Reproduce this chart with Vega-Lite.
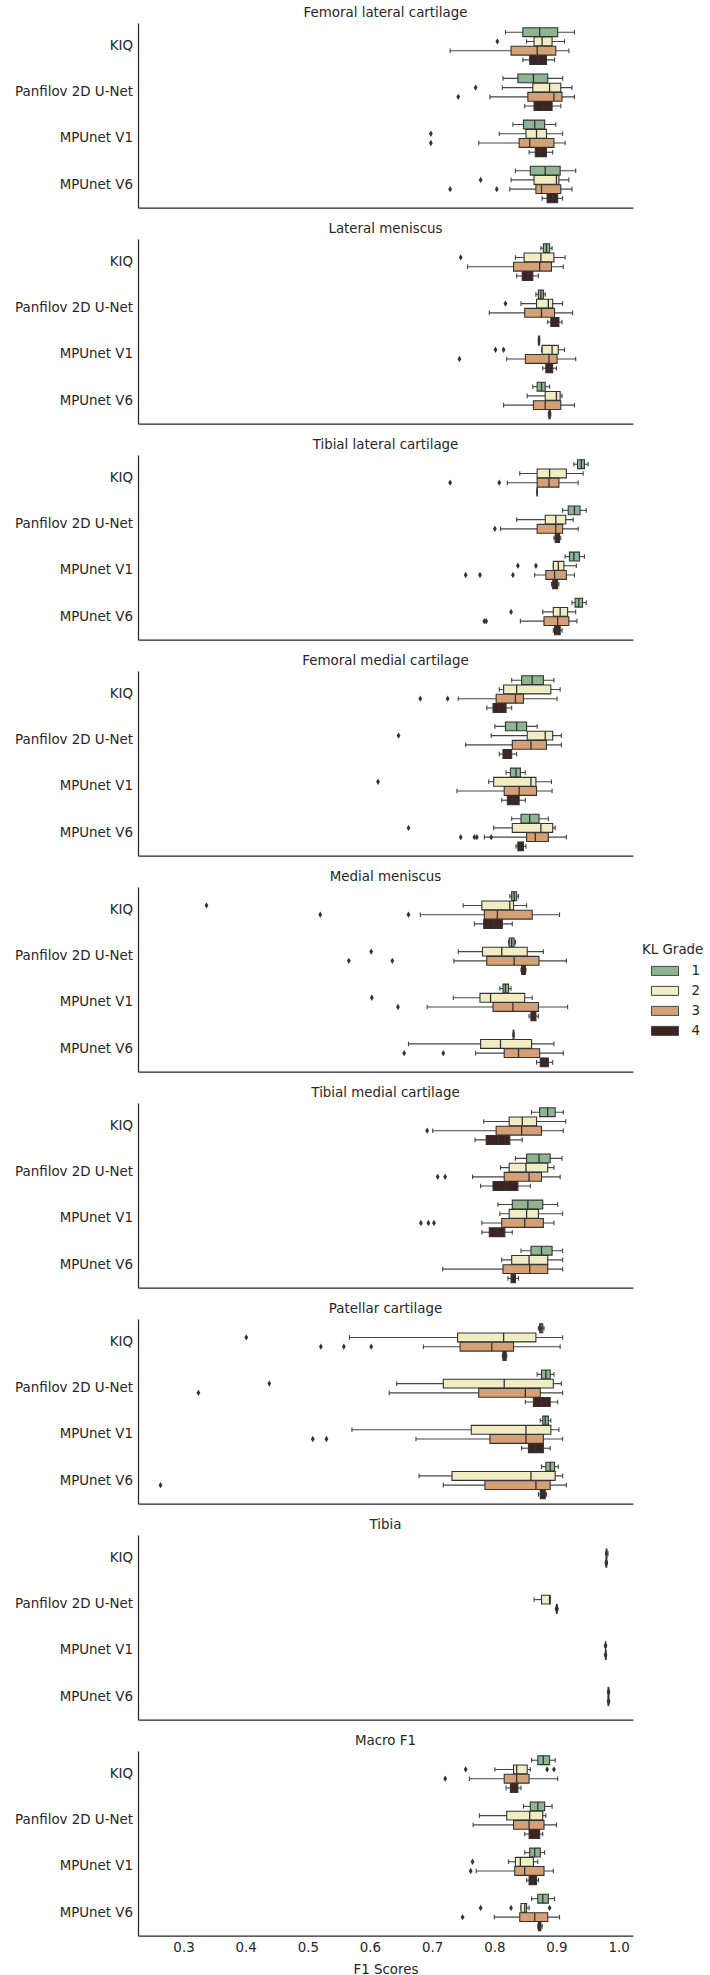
{
  "$schema": "https://vega.github.io/schema/vega-lite/v6.json",
  "autosize": {"type": "pad"},
  "padding": {"left": 14, "top": 5, "right": 0, "bottom": 0},
  "background": "white",
  "config": {
    "font": "DejaVu Sans",
    "view": {"stroke": null},
    "axis": {"grid": false, "ticks": false, "domainColor": "#262626", "domainWidth": 1.25, "labelColor": "#262626", "labelFontSize": 13.4, "titleFontSize": 13.4, "titleFontWeight": "normal", "titleColor": "#262626"},
    "title": {"fontSize": 13.4, "fontWeight": "normal", "color": "#262626"}
  },
  "resolve": {"scale": {"color": "shared", "y": "independent", "yOffset": "independent"}, "legend": {"color": "shared"}},
  "data": {"values": [
{"part":"Femoral lateral cartilage","method":"KIQ","grade":1,"lo":0.818,"q1":0.846,"med":0.873,"q3":0.902,"hi":0.929},
{"part":"Femoral lateral cartilage","method":"KIQ","grade":2,"lo":0.852,"q1":0.864,"med":0.877,"q3":0.893,"hi":0.913},
{"part":"Femoral lateral cartilage","method":"KIQ","grade":3,"lo":0.729,"q1":0.827,"med":0.869,"q3":0.899,"hi":0.920},
{"part":"Femoral lateral cartilage","method":"KIQ","grade":4,"lo":0.846,"q1":0.857,"med":0.871,"q3":0.884,"hi":0.897},
{"part":"Femoral lateral cartilage","method":"Panfilov 2D U-Net","grade":1,"lo":0.814,"q1":0.838,"med":0.863,"q3":0.886,"hi":0.910},
{"part":"Femoral lateral cartilage","method":"Panfilov 2D U-Net","grade":2,"lo":0.813,"q1":0.862,"med":0.889,"q3":0.907,"hi":0.925},
{"part":"Femoral lateral cartilage","method":"Panfilov 2D U-Net","grade":3,"lo":0.793,"q1":0.854,"med":0.896,"q3":0.909,"hi":0.929},
{"part":"Femoral lateral cartilage","method":"Panfilov 2D U-Net","grade":4,"lo":0.849,"q1":0.864,"med":0.879,"q3":0.893,"hi":0.907},
{"part":"Femoral lateral cartilage","method":"MPUnet V1","grade":1,"lo":0.830,"q1":0.847,"med":0.865,"q3":0.881,"hi":0.899},
{"part":"Femoral lateral cartilage","method":"MPUnet V1","grade":2,"lo":0.808,"q1":0.851,"med":0.868,"q3":0.884,"hi":0.910},
{"part":"Femoral lateral cartilage","method":"MPUnet V1","grade":3,"lo":0.775,"q1":0.840,"med":0.857,"q3":0.896,"hi":0.914},
{"part":"Femoral lateral cartilage","method":"MPUnet V1","grade":4,"lo":0.856,"q1":0.866,"med":0.875,"q3":0.884,"hi":0.894},
{"part":"Femoral lateral cartilage","method":"MPUnet V6","grade":1,"lo":0.834,"q1":0.858,"med":0.882,"q3":0.906,"hi":0.931},
{"part":"Femoral lateral cartilage","method":"MPUnet V6","grade":2,"lo":0.827,"q1":0.864,"med":0.900,"q3":0.904,"hi":0.920},
{"part":"Femoral lateral cartilage","method":"MPUnet V6","grade":3,"lo":0.825,"q1":0.867,"med":0.876,"q3":0.907,"hi":0.925},
{"part":"Femoral lateral cartilage","method":"MPUnet V6","grade":4,"lo":0.877,"q1":0.885,"med":0.894,"q3":0.902,"hi":0.910},
{"part":"Femoral lateral cartilage","method":"KIQ","grade":2,"value":0.805},
{"part":"Femoral lateral cartilage","method":"Panfilov 2D U-Net","grade":2,"value":0.770},
{"part":"Femoral lateral cartilage","method":"Panfilov 2D U-Net","grade":3,"value":0.742},
{"part":"Femoral lateral cartilage","method":"MPUnet V1","grade":2,"value":0.698},
{"part":"Femoral lateral cartilage","method":"MPUnet V1","grade":3,"value":0.698},
{"part":"Femoral lateral cartilage","method":"MPUnet V6","grade":2,"value":0.778},
{"part":"Femoral lateral cartilage","method":"MPUnet V6","grade":3,"value":0.729},
{"part":"Femoral lateral cartilage","method":"MPUnet V6","grade":3,"value":0.804},

{"part":"Lateral meniscus","method":"KIQ","grade":1,"lo":0.875,"q1":0.879,"med":0.884,"q3":0.889,"hi":0.893},
{"part":"Lateral meniscus","method":"KIQ","grade":2,"lo":0.834,"q1":0.848,"med":0.875,"q3":0.896,"hi":0.914},
{"part":"Lateral meniscus","method":"KIQ","grade":3,"lo":0.757,"q1":0.831,"med":0.873,"q3":0.892,"hi":0.911},
{"part":"Lateral meniscus","method":"KIQ","grade":4,"lo":0.836,"q1":0.845,"med":0.854,"q3":0.862,"hi":0.871},
{"part":"Lateral meniscus","method":"Panfilov 2D U-Net","grade":1,"lo":0.867,"q1":0.871,"med":0.875,"q3":0.879,"hi":0.882},
{"part":"Lateral meniscus","method":"Panfilov 2D U-Net","grade":2,"lo":0.843,"q1":0.868,"med":0.887,"q3":0.894,"hi":0.910},
{"part":"Lateral meniscus","method":"Panfilov 2D U-Net","grade":3,"lo":0.792,"q1":0.849,"med":0.876,"q3":0.897,"hi":0.926},
{"part":"Lateral meniscus","method":"Panfilov 2D U-Net","grade":4,"lo":0.886,"q1":0.891,"med":0.898,"q3":0.904,"hi":0.909},
{"part":"Lateral meniscus","method":"MPUnet V1","grade":1,"lo":0.871,"q1":0.871,"med":0.872,"q3":0.873,"hi":0.873},
{"part":"Lateral meniscus","method":"MPUnet V1","grade":2,"lo":0.876,"q1":0.877,"med":0.893,"q3":0.903,"hi":0.913},
{"part":"Lateral meniscus","method":"MPUnet V1","grade":3,"lo":0.820,"q1":0.850,"med":0.888,"q3":0.901,"hi":0.931},
{"part":"Lateral meniscus","method":"MPUnet V1","grade":4,"lo":0.878,"q1":0.883,"med":0.889,"q3":0.894,"hi":0.900},
{"part":"Lateral meniscus","method":"MPUnet V6","grade":1,"lo":0.862,"q1":0.869,"med":0.876,"q3":0.882,"hi":0.889},
{"part":"Lateral meniscus","method":"MPUnet V6","grade":2,"lo":0.853,"q1":0.882,"med":0.900,"q3":0.906,"hi":0.909},
{"part":"Lateral meniscus","method":"MPUnet V6","grade":3,"lo":0.815,"q1":0.863,"med":0.882,"q3":0.907,"hi":0.929},
{"part":"Lateral meniscus","method":"MPUnet V6","grade":4,"lo":0.887,"q1":0.888,"med":0.889,"q3":0.890,"hi":0.891},
{"part":"Lateral meniscus","method":"KIQ","grade":2,"value":0.746},
{"part":"Lateral meniscus","method":"Panfilov 2D U-Net","grade":2,"value":0.818},
{"part":"Lateral meniscus","method":"MPUnet V1","grade":2,"value":0.802},
{"part":"Lateral meniscus","method":"MPUnet V1","grade":2,"value":0.815},
{"part":"Lateral meniscus","method":"MPUnet V1","grade":3,"value":0.744},

{"part":"Tibial lateral cartilage","method":"KIQ","grade":1,"lo":0.928,"q1":0.934,"med":0.940,"q3":0.945,"hi":0.951},
{"part":"Tibial lateral cartilage","method":"KIQ","grade":2,"lo":0.841,"q1":0.869,"med":0.889,"q3":0.916,"hi":0.943},
{"part":"Tibial lateral cartilage","method":"KIQ","grade":3,"lo":0.821,"q1":0.869,"med":0.888,"q3":0.904,"hi":0.935},
{"part":"Tibial lateral cartilage","method":"KIQ","grade":4,"lo":0.869,"q1":0.869,"med":0.869,"q3":0.869,"hi":0.869},
{"part":"Tibial lateral cartilage","method":"Panfilov 2D U-Net","grade":1,"lo":0.910,"q1":0.919,"med":0.929,"q3":0.938,"hi":0.948},
{"part":"Tibial lateral cartilage","method":"Panfilov 2D U-Net","grade":2,"lo":0.836,"q1":0.882,"med":0.899,"q3":0.915,"hi":0.927},
{"part":"Tibial lateral cartilage","method":"Panfilov 2D U-Net","grade":3,"lo":0.810,"q1":0.869,"med":0.899,"q3":0.910,"hi":0.935},
{"part":"Tibial lateral cartilage","method":"Panfilov 2D U-Net","grade":4,"lo":0.896,"q1":0.898,"med":0.902,"q3":0.905,"hi":0.907},
{"part":"Tibial lateral cartilage","method":"MPUnet V1","grade":1,"lo":0.914,"q1":0.921,"med":0.928,"q3":0.937,"hi":0.945},
{"part":"Tibial lateral cartilage","method":"MPUnet V1","grade":2,"lo":0.895,"q1":0.895,"med":0.903,"q3":0.912,"hi":0.932},
{"part":"Tibial lateral cartilage","method":"MPUnet V1","grade":3,"lo":0.865,"q1":0.883,"med":0.897,"q3":0.916,"hi":0.929},
{"part":"Tibial lateral cartilage","method":"MPUnet V1","grade":4,"lo":0.892,"q1":0.894,"med":0.898,"q3":0.902,"hi":0.904},
{"part":"Tibial lateral cartilage","method":"MPUnet V6","grade":1,"lo":0.925,"q1":0.930,"med":0.936,"q3":0.942,"hi":0.948},
{"part":"Tibial lateral cartilage","method":"MPUnet V6","grade":2,"lo":0.878,"q1":0.895,"med":0.906,"q3":0.918,"hi":0.931},
{"part":"Tibial lateral cartilage","method":"MPUnet V6","grade":3,"lo":0.842,"q1":0.880,"med":0.902,"q3":0.920,"hi":0.933},
{"part":"Tibial lateral cartilage","method":"MPUnet V6","grade":4,"lo":0.895,"q1":0.897,"med":0.902,"q3":0.906,"hi":0.909},
{"part":"Tibial lateral cartilage","method":"KIQ","grade":3,"value":0.729},
{"part":"Tibial lateral cartilage","method":"KIQ","grade":3,"value":0.808},
{"part":"Tibial lateral cartilage","method":"Panfilov 2D U-Net","grade":3,"value":0.801},
{"part":"Tibial lateral cartilage","method":"MPUnet V1","grade":2,"value":0.838},
{"part":"Tibial lateral cartilage","method":"MPUnet V1","grade":2,"value":0.867},
{"part":"Tibial lateral cartilage","method":"MPUnet V1","grade":3,"value":0.754},
{"part":"Tibial lateral cartilage","method":"MPUnet V1","grade":3,"value":0.777},
{"part":"Tibial lateral cartilage","method":"MPUnet V1","grade":3,"value":0.830},
{"part":"Tibial lateral cartilage","method":"MPUnet V6","grade":2,"value":0.827},
{"part":"Tibial lateral cartilage","method":"MPUnet V6","grade":3,"value":0.784},
{"part":"Tibial lateral cartilage","method":"MPUnet V6","grade":3,"value":0.787},

{"part":"Femoral medial cartilage","method":"KIQ","grade":1,"lo":0.828,"q1":0.844,"med":0.861,"q3":0.879,"hi":0.896},
{"part":"Femoral medial cartilage","method":"KIQ","grade":2,"lo":0.808,"q1":0.815,"med":0.836,"q3":0.891,"hi":0.906},
{"part":"Femoral medial cartilage","method":"KIQ","grade":3,"lo":0.742,"q1":0.803,"med":0.834,"q3":0.847,"hi":0.901},
{"part":"Femoral medial cartilage","method":"KIQ","grade":4,"lo":0.788,"q1":0.798,"med":0.808,"q3":0.819,"hi":0.828},
{"part":"Femoral medial cartilage","method":"Panfilov 2D U-Net","grade":1,"lo":0.801,"q1":0.818,"med":0.836,"q3":0.852,"hi":0.869},
{"part":"Femoral medial cartilage","method":"Panfilov 2D U-Net","grade":2,"lo":0.795,"q1":0.853,"med":0.882,"q3":0.894,"hi":0.908},
{"part":"Femoral medial cartilage","method":"Panfilov 2D U-Net","grade":3,"lo":0.754,"q1":0.829,"med":0.859,"q3":0.884,"hi":0.908},
{"part":"Femoral medial cartilage","method":"Panfilov 2D U-Net","grade":4,"lo":0.808,"q1":0.814,"med":0.821,"q3":0.828,"hi":0.836},
{"part":"Femoral medial cartilage","method":"MPUnet V1","grade":1,"lo":0.819,"q1":0.826,"med":0.835,"q3":0.842,"hi":0.850},
{"part":"Femoral medial cartilage","method":"MPUnet V1","grade":2,"lo":0.791,"q1":0.799,"med":0.859,"q3":0.867,"hi":0.892},
{"part":"Femoral medial cartilage","method":"MPUnet V1","grade":3,"lo":0.740,"q1":0.816,"med":0.840,"q3":0.868,"hi":0.893},
{"part":"Femoral medial cartilage","method":"MPUnet V1","grade":4,"lo":0.812,"q1":0.821,"med":0.830,"q3":0.840,"hi":0.850},
{"part":"Femoral medial cartilage","method":"MPUnet V6","grade":1,"lo":0.828,"q1":0.843,"med":0.857,"q3":0.872,"hi":0.887},
{"part":"Femoral medial cartilage","method":"MPUnet V6","grade":2,"lo":0.799,"q1":0.829,"med":0.875,"q3":0.894,"hi":0.898},
{"part":"Femoral medial cartilage","method":"MPUnet V6","grade":3,"lo":0.784,"q1":0.852,"med":0.866,"q3":0.887,"hi":0.916},
{"part":"Femoral medial cartilage","method":"MPUnet V6","grade":4,"lo":0.835,"q1":0.838,"med":0.842,"q3":0.847,"hi":0.851},
{"part":"Femoral medial cartilage","method":"KIQ","grade":3,"value":0.681},
{"part":"Femoral medial cartilage","method":"KIQ","grade":3,"value":0.725},
{"part":"Femoral medial cartilage","method":"Panfilov 2D U-Net","grade":2,"value":0.646},
{"part":"Femoral medial cartilage","method":"MPUnet V1","grade":2,"value":0.613},
{"part":"Femoral medial cartilage","method":"MPUnet V6","grade":2,"value":0.662},
{"part":"Femoral medial cartilage","method":"MPUnet V6","grade":3,"value":0.746},
{"part":"Femoral medial cartilage","method":"MPUnet V6","grade":3,"value":0.768},
{"part":"Femoral medial cartilage","method":"MPUnet V6","grade":3,"value":0.772},
{"part":"Femoral medial cartilage","method":"MPUnet V6","grade":3,"value":0.795},

{"part":"Medial meniscus","method":"KIQ","grade":1,"lo":0.825,"q1":0.828,"med":0.832,"q3":0.836,"hi":0.839},
{"part":"Medial meniscus","method":"KIQ","grade":2,"lo":0.750,"q1":0.780,"med":0.825,"q3":0.831,"hi":0.852},
{"part":"Medial meniscus","method":"KIQ","grade":3,"lo":0.681,"q1":0.784,"med":0.805,"q3":0.861,"hi":0.905},
{"part":"Medial meniscus","method":"KIQ","grade":4,"lo":0.768,"q1":0.783,"med":0.799,"q3":0.813,"hi":0.829},
{"part":"Medial meniscus","method":"Panfilov 2D U-Net","grade":1,"lo":0.823,"q1":0.824,"med":0.828,"q3":0.832,"hi":0.834},
{"part":"Medial meniscus","method":"Panfilov 2D U-Net","grade":2,"lo":0.742,"q1":0.781,"med":0.812,"q3":0.853,"hi":0.879},
{"part":"Medial meniscus","method":"Panfilov 2D U-Net","grade":3,"lo":0.735,"q1":0.788,"med":0.832,"q3":0.872,"hi":0.916},
{"part":"Medial meniscus","method":"Panfilov 2D U-Net","grade":4,"lo":0.843,"q1":0.844,"med":0.847,"q3":0.850,"hi":0.851},
{"part":"Medial meniscus","method":"MPUnet V1","grade":1,"lo":0.809,"q1":0.814,"med":0.818,"q3":0.823,"hi":0.827},
{"part":"Medial meniscus","method":"MPUnet V1","grade":2,"lo":0.734,"q1":0.777,"med":0.794,"q3":0.849,"hi":0.861},
{"part":"Medial meniscus","method":"MPUnet V1","grade":3,"lo":0.692,"q1":0.798,"med":0.830,"q3":0.871,"hi":0.918},
{"part":"Medial meniscus","method":"MPUnet V1","grade":4,"lo":0.856,"q1":0.859,"med":0.863,"q3":0.867,"hi":0.871},
{"part":"Medial meniscus","method":"MPUnet V6","grade":1,"lo":0.830,"q1":0.8305,"med":0.831,"q3":0.8315,"hi":0.832},
{"part":"Medial meniscus","method":"MPUnet V6","grade":2,"lo":0.662,"q1":0.778,"med":0.810,"q3":0.860,"hi":0.896},
{"part":"Medial meniscus","method":"MPUnet V6","grade":3,"lo":0.770,"q1":0.816,"med":0.839,"q3":0.873,"hi":0.911},
{"part":"Medial meniscus","method":"MPUnet V6","grade":4,"lo":0.868,"q1":0.874,"med":0.880,"q3":0.887,"hi":0.894},
{"part":"Medial meniscus","method":"KIQ","grade":2,"value":0.337},
{"part":"Medial meniscus","method":"KIQ","grade":3,"value":0.520},
{"part":"Medial meniscus","method":"KIQ","grade":3,"value":0.662},
{"part":"Medial meniscus","method":"Panfilov 2D U-Net","grade":2,"value":0.602},
{"part":"Medial meniscus","method":"Panfilov 2D U-Net","grade":3,"value":0.566},
{"part":"Medial meniscus","method":"Panfilov 2D U-Net","grade":3,"value":0.636},
{"part":"Medial meniscus","method":"MPUnet V1","grade":2,"value":0.603},
{"part":"Medial meniscus","method":"MPUnet V1","grade":3,"value":0.645},
{"part":"Medial meniscus","method":"MPUnet V6","grade":3,"value":0.655},
{"part":"Medial meniscus","method":"MPUnet V6","grade":3,"value":0.718},

{"part":"Tibial medial cartilage","method":"KIQ","grade":1,"lo":0.860,"q1":0.873,"med":0.886,"q3":0.898,"hi":0.911},
{"part":"Tibial medial cartilage","method":"KIQ","grade":2,"lo":0.783,"q1":0.824,"med":0.845,"q3":0.868,"hi":0.915},
{"part":"Tibial medial cartilage","method":"KIQ","grade":3,"lo":0.701,"q1":0.803,"med":0.844,"q3":0.876,"hi":0.911},
{"part":"Tibial medial cartilage","method":"KIQ","grade":4,"lo":0.769,"q1":0.787,"med":0.807,"q3":0.825,"hi":0.845},
{"part":"Tibial medial cartilage","method":"Panfilov 2D U-Net","grade":1,"lo":0.834,"q1":0.852,"med":0.872,"q3":0.890,"hi":0.909},
{"part":"Tibial medial cartilage","method":"Panfilov 2D U-Net","grade":2,"lo":0.810,"q1":0.824,"med":0.851,"q3":0.886,"hi":0.896},
{"part":"Tibial medial cartilage","method":"Panfilov 2D U-Net","grade":3,"lo":0.765,"q1":0.816,"med":0.856,"q3":0.876,"hi":0.906},
{"part":"Tibial medial cartilage","method":"Panfilov 2D U-Net","grade":4,"lo":0.778,"q1":0.798,"med":0.818,"q3":0.838,"hi":0.858},
{"part":"Tibial medial cartilage","method":"MPUnet V1","grade":1,"lo":0.806,"q1":0.829,"med":0.854,"q3":0.878,"hi":0.902},
{"part":"Tibial medial cartilage","method":"MPUnet V1","grade":2,"lo":0.809,"q1":0.824,"med":0.852,"q3":0.871,"hi":0.910},
{"part":"Tibial medial cartilage","method":"MPUnet V1","grade":3,"lo":0.780,"q1":0.812,"med":0.849,"q3":0.879,"hi":0.896},
{"part":"Tibial medial cartilage","method":"MPUnet V1","grade":4,"lo":0.780,"q1":0.792,"med":0.805,"q3":0.817,"hi":0.829},
{"part":"Tibial medial cartilage","method":"MPUnet V6","grade":1,"lo":0.843,"q1":0.859,"med":0.876,"q3":0.893,"hi":0.910},
{"part":"Tibial medial cartilage","method":"MPUnet V6","grade":2,"lo":0.812,"q1":0.828,"med":0.856,"q3":0.886,"hi":0.910},
{"part":"Tibial medial cartilage","method":"MPUnet V6","grade":3,"lo":0.717,"q1":0.814,"med":0.857,"q3":0.886,"hi":0.910},
{"part":"Tibial medial cartilage","method":"MPUnet V6","grade":4,"lo":0.822,"q1":0.827,"med":0.830,"q3":0.834,"hi":0.839},
{"part":"Tibial medial cartilage","method":"KIQ","grade":3,"value":0.692},
{"part":"Tibial medial cartilage","method":"Panfilov 2D U-Net","grade":3,"value":0.709},
{"part":"Tibial medial cartilage","method":"Panfilov 2D U-Net","grade":3,"value":0.721},
{"part":"Tibial medial cartilage","method":"MPUnet V1","grade":3,"value":0.682},
{"part":"Tibial medial cartilage","method":"MPUnet V1","grade":3,"value":0.694},
{"part":"Tibial medial cartilage","method":"MPUnet V1","grade":3,"value":0.703},

{"part":"Patellar cartilage","method":"KIQ","grade":1,"lo":0.871,"q1":0.873,"med":0.875,"q3":0.878,"hi":0.880},
{"part":"Patellar cartilage","method":"KIQ","grade":2,"lo":0.567,"q1":0.741,"med":0.815,"q3":0.867,"hi":0.910},
{"part":"Patellar cartilage","method":"KIQ","grade":3,"lo":0.686,"q1":0.745,"med":0.796,"q3":0.831,"hi":0.906},
{"part":"Patellar cartilage","method":"KIQ","grade":4,"lo":0.813,"q1":0.814,"med":0.816,"q3":0.819,"hi":0.820},
{"part":"Patellar cartilage","method":"Panfilov 2D U-Net","grade":1,"lo":0.869,"q1":0.876,"med":0.883,"q3":0.890,"hi":0.896},
{"part":"Patellar cartilage","method":"Panfilov 2D U-Net","grade":2,"lo":0.643,"q1":0.718,"med":0.816,"q3":0.895,"hi":0.908},
{"part":"Patellar cartilage","method":"Panfilov 2D U-Net","grade":3,"lo":0.631,"q1":0.775,"med":0.850,"q3":0.874,"hi":0.910},
{"part":"Patellar cartilage","method":"Panfilov 2D U-Net","grade":4,"lo":0.850,"q1":0.863,"med":0.876,"q3":0.890,"hi":0.902},
{"part":"Patellar cartilage","method":"MPUnet V1","grade":1,"lo":0.874,"q1":0.878,"med":0.882,"q3":0.887,"hi":0.891},
{"part":"Patellar cartilage","method":"MPUnet V1","grade":2,"lo":0.571,"q1":0.763,"med":0.851,"q3":0.891,"hi":0.904},
{"part":"Patellar cartilage","method":"MPUnet V1","grade":3,"lo":0.674,"q1":0.793,"med":0.851,"q3":0.879,"hi":0.910},
{"part":"Patellar cartilage","method":"MPUnet V1","grade":4,"lo":0.844,"q1":0.855,"med":0.867,"q3":0.879,"hi":0.890},
{"part":"Patellar cartilage","method":"MPUnet V6","grade":1,"lo":0.876,"q1":0.883,"med":0.890,"q3":0.897,"hi":0.903},
{"part":"Patellar cartilage","method":"MPUnet V6","grade":2,"lo":0.679,"q1":0.732,"med":0.859,"q3":0.898,"hi":0.910},
{"part":"Patellar cartilage","method":"MPUnet V6","grade":3,"lo":0.718,"q1":0.785,"med":0.867,"q3":0.890,"hi":0.916},
{"part":"Patellar cartilage","method":"MPUnet V6","grade":4,"lo":0.871,"q1":0.874,"med":0.878,"q3":0.882,"hi":0.884},
{"part":"Patellar cartilage","method":"KIQ","grade":1,"value":0.874},
{"part":"Patellar cartilage","method":"KIQ","grade":2,"value":0.401},
{"part":"Patellar cartilage","method":"KIQ","grade":3,"value":0.521},
{"part":"Patellar cartilage","method":"KIQ","grade":3,"value":0.558},
{"part":"Patellar cartilage","method":"KIQ","grade":3,"value":0.602},
{"part":"Patellar cartilage","method":"KIQ","grade":4,"value":0.816},
{"part":"Patellar cartilage","method":"Panfilov 2D U-Net","grade":2,"value":0.438},
{"part":"Patellar cartilage","method":"Panfilov 2D U-Net","grade":3,"value":0.324},
{"part":"Patellar cartilage","method":"MPUnet V1","grade":3,"value":0.508},
{"part":"Patellar cartilage","method":"MPUnet V1","grade":3,"value":0.530},
{"part":"Patellar cartilage","method":"MPUnet V6","grade":3,"value":0.263},

{"part":"Tibia","method":"KIQ","grade":2,"lo":0.979,"q1":0.980,"med":0.981,"q3":0.981,"hi":0.983},
{"part":"Tibia","method":"KIQ","grade":3,"lo":0.979,"q1":0.980,"med":0.980,"q3":0.981,"hi":0.982},
{"part":"Tibia","method":"Panfilov 2D U-Net","grade":2,"lo":0.864,"q1":0.876,"med":0.889,"q3":0.890,"hi":0.890},
{"part":"Tibia","method":"Panfilov 2D U-Net","grade":3,"lo":0.899,"q1":0.900,"med":0.901,"q3":0.901,"hi":0.902},
{"part":"Tibia","method":"MPUnet V1","grade":2,"lo":0.978,"q1":0.979,"med":0.979,"q3":0.979,"hi":0.980},
{"part":"Tibia","method":"MPUnet V1","grade":3,"lo":0.978,"q1":0.979,"med":0.979,"q3":0.980,"hi":0.980},
{"part":"Tibia","method":"MPUnet V6","grade":2,"lo":0.983,"q1":0.983,"med":0.984,"q3":0.984,"hi":0.985},
{"part":"Tibia","method":"MPUnet V6","grade":3,"lo":0.983,"q1":0.983,"med":0.984,"q3":0.984,"hi":0.985},
{"part":"Tibia","method":"KIQ","grade":3,"value":0.980},
{"part":"Tibia","method":"Panfilov 2D U-Net","grade":3,"value":0.900},
{"part":"Tibia","method":"Panfilov 2D U-Net","grade":3,"value":0.901},
{"part":"Tibia","method":"MPUnet V1","grade":2,"value":0.979},
{"part":"Tibia","method":"MPUnet V1","grade":3,"value":0.979},
{"part":"Tibia","method":"MPUnet V6","grade":2,"value":0.984},
{"part":"Tibia","method":"MPUnet V6","grade":3,"value":0.984},

{"part":"Macro F1","method":"KIQ","grade":1,"lo":0.860,"q1":0.870,"med":0.879,"q3":0.889,"hi":0.898},
{"part":"Macro F1","method":"KIQ","grade":2,"lo":0.801,"q1":0.831,"med":0.836,"q3":0.853,"hi":0.858},
{"part":"Macro F1","method":"KIQ","grade":3,"lo":0.760,"q1":0.816,"med":0.836,"q3":0.856,"hi":0.902},
{"part":"Macro F1","method":"KIQ","grade":4,"lo":0.819,"q1":0.826,"med":0.831,"q3":0.838,"hi":0.843},
{"part":"Macro F1","method":"Panfilov 2D U-Net","grade":1,"lo":0.847,"q1":0.858,"med":0.870,"q3":0.881,"hi":0.893},
{"part":"Macro F1","method":"Panfilov 2D U-Net","grade":2,"lo":0.776,"q1":0.820,"med":0.857,"q3":0.878,"hi":0.883},
{"part":"Macro F1","method":"Panfilov 2D U-Net","grade":3,"lo":0.766,"q1":0.831,"med":0.856,"q3":0.880,"hi":0.900},
{"part":"Macro F1","method":"Panfilov 2D U-Net","grade":4,"lo":0.849,"q1":0.856,"med":0.864,"q3":0.873,"hi":0.878},
{"part":"Macro F1","method":"MPUnet V1","grade":1,"lo":0.849,"q1":0.857,"med":0.865,"q3":0.874,"hi":0.881},
{"part":"Macro F1","method":"MPUnet V1","grade":2,"lo":0.823,"q1":0.834,"med":0.842,"q3":0.863,"hi":0.870},
{"part":"Macro F1","method":"MPUnet V1","grade":3,"lo":0.771,"q1":0.833,"med":0.849,"q3":0.880,"hi":0.895},
{"part":"Macro F1","method":"MPUnet V1","grade":4,"lo":0.852,"q1":0.856,"med":0.862,"q3":0.868,"hi":0.871},
{"part":"Macro F1","method":"MPUnet V6","grade":1,"lo":0.860,"q1":0.870,"med":0.878,"q3":0.887,"hi":0.897},
{"part":"Macro F1","method":"MPUnet V6","grade":2,"lo":0.843,"q1":0.843,"med":0.849,"q3":0.852,"hi":0.856},
{"part":"Macro F1","method":"MPUnet V6","grade":3,"lo":0.800,"q1":0.841,"med":0.865,"q3":0.886,"hi":0.905},
{"part":"Macro F1","method":"MPUnet V6","grade":4,"lo":0.870,"q1":0.871,"med":0.873,"q3":0.875,"hi":0.877},
{"part":"Macro F1","method":"KIQ","grade":2,"value":0.754},
{"part":"Macro F1","method":"KIQ","grade":2,"value":0.885},
{"part":"Macro F1","method":"KIQ","grade":2,"value":0.896},
{"part":"Macro F1","method":"KIQ","grade":3,"value":0.721},
{"part":"Macro F1","method":"MPUnet V1","grade":2,"value":0.765},
{"part":"Macro F1","method":"MPUnet V1","grade":3,"value":0.762},
{"part":"Macro F1","method":"MPUnet V6","grade":2,"value":0.778},
{"part":"Macro F1","method":"MPUnet V6","grade":2,"value":0.827},
{"part":"Macro F1","method":"MPUnet V6","grade":2,"value":0.889},
{"part":"Macro F1","method":"MPUnet V6","grade":3,"value":0.749}
  ]},
  "vconcat": [
    {
      "transform": [{"filter": "datum.part !== 'Macro F1'"}],
      "facet": {"field": "part", "type": "nominal",
        "sort": ["Femoral lateral cartilage", "Lateral meniscus", "Tibial lateral cartilage", "Femoral medial cartilage", "Medial meniscus", "Tibial medial cartilage", "Patellar cartilage", "Tibia"],
        "header": {"title": null, "labelFontSize": 13.4, "labelColor": "#262626", "labelPadding": 4, "labelFont": "DejaVu Sans"}},
      "columns": 1,
      "spacing": 13,
      "resolve": {"axis": {"x": "independent"}},
      "spec": {
        "width": 495, "height": 184.6,
        "encoding": {
          "y": {"field": "method", "type": "nominal", "sort": ["KIQ", "Panfilov 2D U-Net", "MPUnet V1", "MPUnet V6"], "scale": {"paddingInner": 0, "paddingOuter": 0}, "axis": {"title": null, "labelPadding": 5.5}},
          "yOffset": {"field": "grade", "type": "ordinal", "scale": {"domain": [1, 2, 3, 4], "paddingInner": 0.04, "paddingOuter": 0.52}}
        },
        "layer": [
          {"transform": [{"filter": {"field": "lo", "valid": true}}], "mark": {"type": "rule", "color": "#444444", "strokeWidth": 1.1},
           "encoding": {"x": {"field": "lo", "type": "quantitative", "scale": {"domain": [0.2268, 1.0232], "nice": false, "zero": false}, "axis": {"labels": false, "title": null, "values": [0.3, 0.4, 0.5, 0.6, 0.7, 0.8, 0.9, 1.0]}}, "x2": {"field": "hi"}}},
          {"transform": [{"filter": {"field": "lo", "valid": true}}], "mark": {"type": "tick", "orient": "vertical", "size": 4.6, "thickness": 1.1, "color": "#444444", "opacity": 1},
           "encoding": {"x": {"field": "lo", "type": "quantitative"}}},
          {"transform": [{"filter": {"field": "lo", "valid": true}}], "mark": {"type": "tick", "orient": "vertical", "size": 4.6, "thickness": 1.1, "color": "#444444", "opacity": 1},
           "encoding": {"x": {"field": "hi", "type": "quantitative"}}},
          {"transform": [{"filter": {"field": "lo", "valid": true}}], "mark": {"type": "bar", "stroke": "#333333", "strokeWidth": 1.1, "opacity": 1},
           "encoding": {"x": {"field": "q1", "type": "quantitative"}, "x2": {"field": "q3"},
             "fill": {"field": "grade", "type": "nominal", "scale": {"domain": [1, 2, 3, 4], "range": ["#8db592", "#f0ecc4", "#d6a077", "#3e2420"]},
               "legend": {"title": "KL Grade", "orient": "none", "legendX": 504, "legendY": 920, "symbolType": "M-1.5,-0.5H1.5V0.5H-1.5Z", "symbolSize": 324, "symbolOffset": 13.5, "symbolStrokeColor": "#444444", "symbolStrokeWidth": 1, "labelOffset": 17, "rowPadding": 4, "titlePadding": 5, "titleFontSize": 13.4, "titleFontWeight": "normal", "labelFontSize": 13.4, "titleColor": "#262626", "labelColor": "#262626"}}}},
          {"transform": [{"filter": {"field": "lo", "valid": true}}], "mark": {"type": "tick", "orient": "vertical", "size": 9, "thickness": 1.3, "color": "#333333", "opacity": 1},
           "encoding": {"x": {"field": "med", "type": "quantitative"}}},
          {"transform": [{"filter": {"field": "value", "valid": true}}], "mark": {"type": "point", "shape": "M0,-1L0.6,0L0,1L-0.6,0Z", "filled": true, "size": 40, "color": "#333333", "opacity": 1},
           "encoding": {"x": {"field": "value", "type": "quantitative"}}}
        ]
      }
    },
    {
      "transform": [{"filter": "datum.part === 'Macro F1'"}],
      "title": {"text": "Macro F1", "fontSize": 13.4, "fontWeight": "normal", "color": "#262626", "offset": 4},
      "width": 495, "height": 184.6,
      "encoding": {
        "y": {"field": "method", "type": "nominal", "sort": ["KIQ", "Panfilov 2D U-Net", "MPUnet V1", "MPUnet V6"], "scale": {"paddingInner": 0, "paddingOuter": 0}, "axis": {"title": null, "labelPadding": 5.5}},
        "yOffset": {"field": "grade", "type": "ordinal", "scale": {"domain": [1, 2, 3, 4], "paddingInner": 0.04, "paddingOuter": 0.52}}
      },
      "layer": [
        {"transform": [{"filter": {"field": "lo", "valid": true}}], "mark": {"type": "rule", "color": "#444444", "strokeWidth": 1.1},
         "encoding": {"x": {"field": "lo", "type": "quantitative", "scale": {"domain": [0.2268, 1.0232], "nice": false, "zero": false}, "axis": {"title": "F1 Scores", "format": ".1f", "values": [0.3, 0.4, 0.5, 0.6, 0.7, 0.8, 0.9, 1.0], "labelPadding": 5, "titlePadding": 8}}, "x2": {"field": "hi"}}},
        {"transform": [{"filter": {"field": "lo", "valid": true}}], "mark": {"type": "tick", "orient": "vertical", "size": 4.6, "thickness": 1.1, "color": "#444444", "opacity": 1},
         "encoding": {"x": {"field": "lo", "type": "quantitative"}}},
        {"transform": [{"filter": {"field": "lo", "valid": true}}], "mark": {"type": "tick", "orient": "vertical", "size": 4.6, "thickness": 1.1, "color": "#444444", "opacity": 1},
         "encoding": {"x": {"field": "hi", "type": "quantitative"}}},
        {"transform": [{"filter": {"field": "lo", "valid": true}}], "mark": {"type": "bar", "stroke": "#333333", "strokeWidth": 1.1, "opacity": 1},
         "encoding": {"x": {"field": "q1", "type": "quantitative"}, "x2": {"field": "q3"},
           "fill": {"field": "grade", "type": "nominal", "scale": {"domain": [1, 2, 3, 4], "range": ["#8db592", "#f0ecc4", "#d6a077", "#3e2420"]}}}},
        {"transform": [{"filter": {"field": "lo", "valid": true}}], "mark": {"type": "tick", "orient": "vertical", "size": 9, "thickness": 1.3, "color": "#333333", "opacity": 1},
         "encoding": {"x": {"field": "med", "type": "quantitative"}}},
        {"transform": [{"filter": {"field": "value", "valid": true}}], "mark": {"type": "point", "shape": "M0,-1L0.6,0L0,1L-0.6,0Z", "filled": true, "size": 40, "color": "#333333", "opacity": 1},
         "encoding": {"x": {"field": "value", "type": "quantitative"}}}
      ]
    }
  ],
  "spacing": 13
}
